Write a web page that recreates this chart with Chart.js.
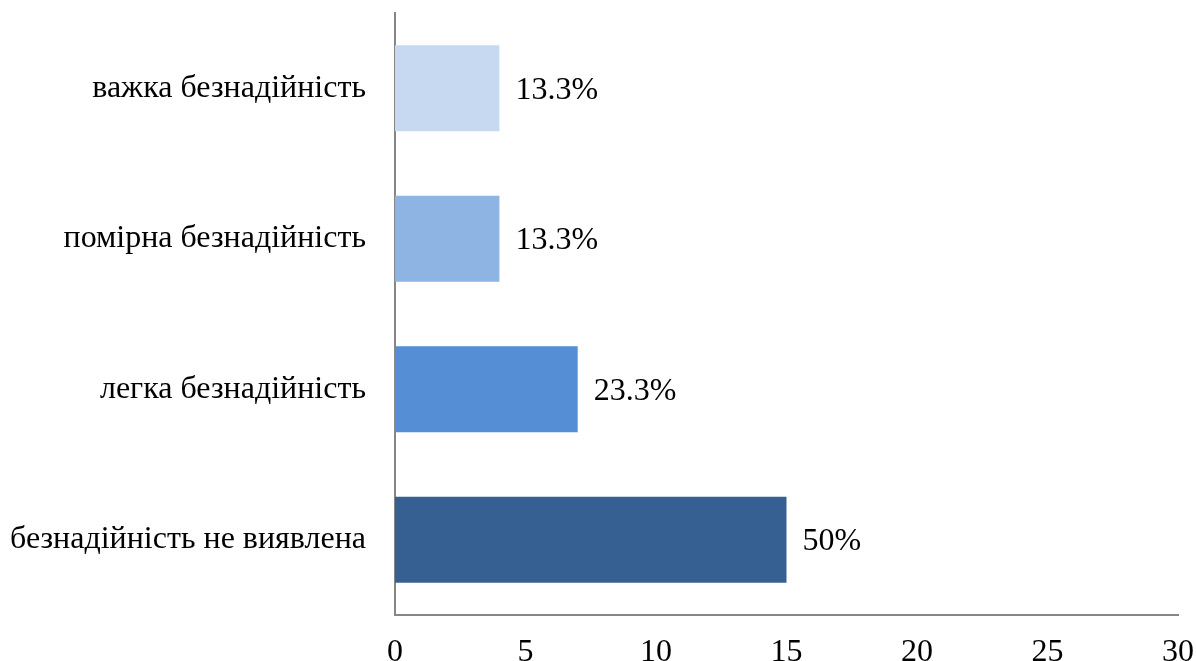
<!DOCTYPE html>
<html>
<head>
<meta charset="utf-8">
<script src="https://cdn.jsdelivr.net/npm/chart.js@4"></script>
<style>
  html, body { margin: 0; padding: 0; background: #fff; }
  #wrap { width: 1196px; height: 661px; }
</style>
</head>
<body>
<div id="wrap"><canvas id="chart"></canvas></div>
<script>
const categories = ['важка безнадійність', 'помірна безнадійність', 'легка безнадійність', 'безнадійність не виявлена'];
const counts = [4, 4, 7, 15];
const percents = ['13.3%', '13.3%', '23.3%', '50%'];
const barColors = ['#C6D9F1', '#8EB4E3', '#558ED5', '#376092'];

const FONT = "'Liberation Serif', 'Times New Roman', serif";
const FONT_SIZE = 32;

// value labels to the right of each bar
const valueLabels = {
  id: 'valueLabels',
  afterDatasetsDraw(chart) {
    const ctx = chart.ctx;
    const meta = chart.getDatasetMeta(0);
    ctx.save();
    ctx.font = FONT_SIZE + 'px ' + FONT;
    ctx.fillStyle = '#000';
    ctx.textAlign = 'left';
    ctx.textBaseline = 'middle';
    meta.data.forEach((bar, i) => {
      ctx.fillText(percents[i], bar.x + 16, bar.y + 2);
    });
    ctx.restore();
  }
};

new Chart(document.getElementById('chart'), {
  type: 'bar',
  data: {
    labels: categories,
    datasets: [{
      data: counts,
      backgroundColor: barColors,
      borderWidth: 0,
      categoryPercentage: 0.57,
      barPercentage: 1
    }]
  },
  options: {
    indexAxis: 'y',
    responsive: true,
    maintainAspectRatio: false,
    animation: false,
    layout: { padding: { top: 13, right: 18, bottom: 0, left: 0 } },
    plugins: {
      legend: { display: false },
      tooltip: { enabled: false }
    },
    scales: {
      x: {
        min: 0,
        max: 30,
        ticks: { stepSize: 5, color: '#000', padding: 18, maxRotation: 0, font: { family: FONT, size: FONT_SIZE } },
        grid: { display: false, drawTicks: false },
        border: { color: '#868686', width: 2 },
        afterFit(scale) {
          scale.height = 46;
          scale.paddingLeft = 0;
          scale.paddingRight = 0;
        }
      },
      y: {
        ticks: { color: '#000', padding: 29, font: { family: FONT, size: FONT_SIZE } },
        grid: { display: false, drawTicks: false },
        border: { color: '#868686', width: 2 },
        afterFit(scale) {
          scale.width = 395;
          scale.paddingTop = 0;
          scale.paddingBottom = 0;
        }
      }
    }
  },
  plugins: [valueLabels]
});
</script>
</body>
</html>
